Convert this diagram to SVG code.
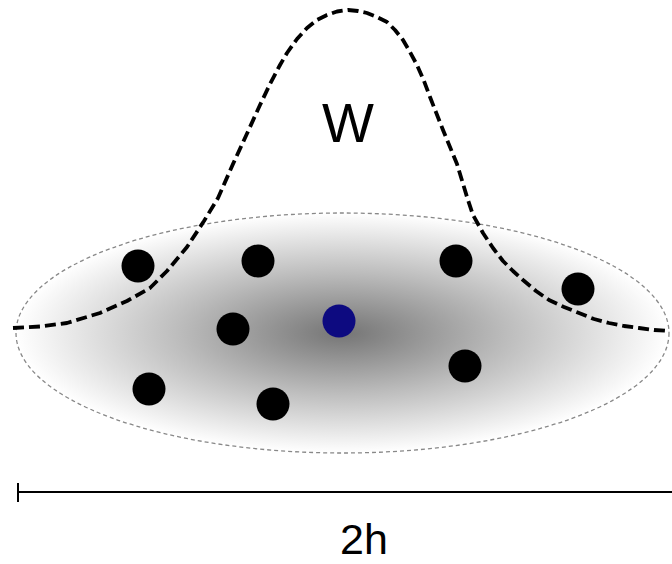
<svg xmlns="http://www.w3.org/2000/svg" width="672" height="564" viewBox="0 0 672 564">
<style>
.pt{fill:#000}
.lbl{font-family:"Liberation Sans",Arial,sans-serif;fill:#000}
</style>
<defs>
<radialGradient id="g" cx="0.5" cy="0.5" r="0.5">
<stop offset="0" stop-color="#757575"/>
<stop offset="0.5" stop-color="#bcbcbc"/>
<stop offset="1" stop-color="#ffffff"/>
</radialGradient>
</defs>
<g id="region">
<ellipse cx="342.5" cy="333" rx="326.5" ry="120" fill="url(#g)" stroke="#888" stroke-width="1.3" stroke-dasharray="4 3"/>
</g>
<g id="kernel">
<polyline fill="none" stroke="#000" stroke-width="3.8" stroke-dasharray="11 5" stroke-linejoin="round" points="13,328 40,326.5 67,323 100,313 127,301 150,288 167,271 187,247 204,221 218,198 233,164 250,127 260,105 270,84 280,65 287,53 297,39 307,28 317,20 327,15 337,11.5 348,10 358,11 367,13 377,17 387,22 395,30 403,40 410,52 417,65 424,81 430,97 443,130 457,164 467,197 473,215 483,233 493,248 503,261 513,271 523,280 536,291 549,300 564,307 579,313 594,319 609,323 624,326 639,328 654,330 669,331"/>
<text class="lbl" x="348" y="142" font-size="55" text-anchor="middle">W</text>
</g>
<g id="samples">
<circle class="pt" cx="138" cy="266" r="16.5"/>
<circle class="pt" cx="258" cy="261" r="16.5"/>
<circle class="pt" cx="233" cy="329" r="16.5"/>
<circle class="pt" cx="149" cy="389" r="16.5"/>
<circle class="pt" cx="273" cy="404" r="16.5"/>
<circle class="pt" cx="456" cy="261" r="16.5"/>
<circle class="pt" cx="578" cy="289" r="16.5"/>
<circle class="pt" cx="465" cy="366" r="16.5"/>
</g>
<g id="center">
<circle cx="339" cy="321" r="16.5" fill="#0d0a80"/>
</g>
<g id="scale">
<line x1="18" y1="492" x2="672" y2="492" stroke="#000" stroke-width="2"/>
<line x1="18" y1="483" x2="18" y2="502" stroke="#000" stroke-width="2"/>
<text class="lbl" x="364" y="554" font-size="43" text-anchor="middle">2h</text>
</g>
</svg>
